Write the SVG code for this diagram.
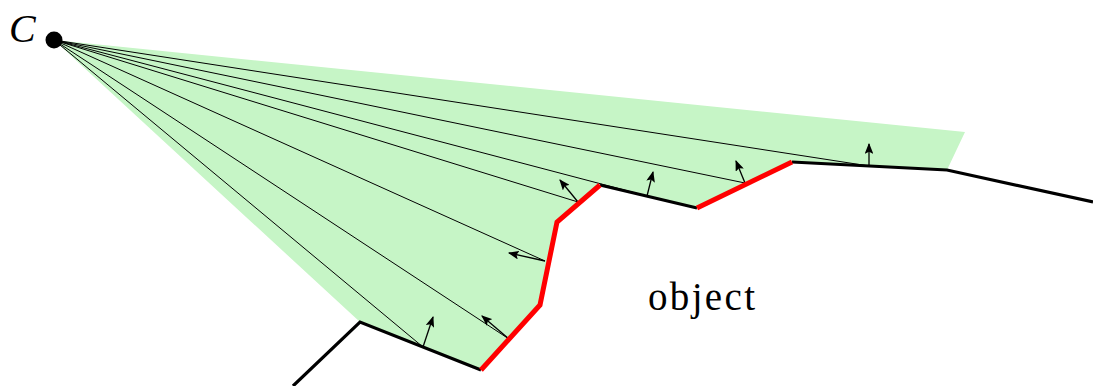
<svg xmlns="http://www.w3.org/2000/svg" width="1093" height="386" viewBox="0 0 1093 386">
<style>
.ray{stroke:#000;stroke-width:1;fill:none}
.nrm{stroke:#000;stroke-width:1.3;fill:none;marker-end:url(#ah)}
.bnd{stroke:#000;stroke-width:3.2;fill:none;stroke-linejoin:miter}
.vis{stroke:#ff0000;stroke-width:5;fill:none;stroke-linejoin:miter}
text{font-family:"Liberation Serif","Times New Roman","DejaVu Serif",serif;fill:#000}
</style>
<defs>
<marker id="ah" viewBox="0 0 10 8" refX="9" refY="4" markerWidth="11" markerHeight="8.8" markerUnits="userSpaceOnUse" orient="auto">
<path d="M0,0 L10,4 L0,8 L2,4 z" fill="#000"/>
</marker>
</defs>
<g id="visible-region">
<polygon points="54,40 965,132 947,170 792,162 697,208 600,185 557,222 540,305 481,370 360,322" fill="#c6f5c6"/>
</g>
<g id="connectors">
<line class="ray" x1="54" y1="40" x2="423" y2="347"/>
<line class="ray" x1="54" y1="40" x2="509" y2="339"/>
<line class="ray" x1="54" y1="40" x2="545" y2="261"/>
<line class="ray" x1="54" y1="40" x2="578" y2="202"/>
<line class="ray" x1="54" y1="40" x2="647" y2="196"/>
<line class="ray" x1="54" y1="40" x2="745" y2="183"/>
<line class="ray" x1="54" y1="40" x2="869" y2="166"/>
<line class="nrm" x1="423" y1="347" x2="433" y2="317"/>
<line class="nrm" x1="509" y1="339" x2="482" y2="316"/>
<line class="nrm" x1="545" y1="261" x2="509" y2="253"/>
<line class="nrm" x1="578" y1="202" x2="560" y2="180"/>
<line class="nrm" x1="647" y1="196" x2="653" y2="172"/>
<line class="nrm" x1="745" y1="183" x2="736" y2="161"/>
<line class="nrm" x1="869" y1="166" x2="869" y2="144"/>
</g>
<g id="object">
<polyline class="bnd" points="293,386 360,322 481,370"/>
<polyline class="bnd" points="600,185 697,208"/>
<polyline class="bnd" points="792,162 947,170 1093,202"/>
<polyline class="vis" points="481,370 540,305 557,222 600,185"/>
<polyline class="vis" points="697,208 792,162"/>
<text x="648" y="310" font-size="39" textLength="107" lengthAdjust="spacing">object</text>
</g>
<g id="camera-C">
<circle cx="54" cy="40" r="8.5" fill="#000"/>
<text x="9" y="42" font-size="40" font-style="italic">C</text>
</g>
</svg>
